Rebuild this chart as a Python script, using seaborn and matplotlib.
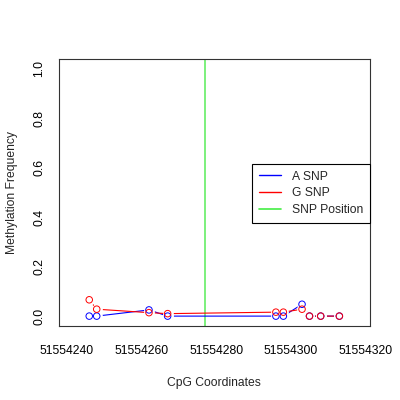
import numpy as np
import pandas as pd
import matplotlib
matplotlib.use("Agg")
import matplotlib.pyplot as plt
from matplotlib.lines import Line2D
import seaborn as sns

# CpG positions and methylation values
cpg_pos = [51554246, 51554248, 51554262, 51554267, 51554296,
           51554298, 51554303, 51554305, 51554308, 51554313]
a_snp = [0.0, 0.0, 0.025, 0.0, 0.0, 0.0, 0.048, 0.0, 0.0, 0.0]
g_snp = [0.066, 0.028, 0.014, 0.010, 0.016, 0.016, 0.028, 0.0, 0.0, 0.0]
snp_position = 51554277
x_ticks = [51554240, 51554260, 51554280, 51554300, 51554320]
y_ticks = [0.0, 0.2, 0.4, 0.6, 0.8, 1.0]

sns.set_style("white")
plt.rcParams['font.family'] = ['Liberation Sans', 'DejaVu Sans']
plt.rcParams['font.size'] = 8.7

df = pd.DataFrame({'pos': cpg_pos, 'A SNP': a_snp, 'G SNP': g_snp})

fig = plt.figure(figsize=(4, 4), dpi=100)
ax = fig.add_axes([0.1475, 0.185, 0.7765, 0.6675])

ax.axvline(snp_position, color='#66ee66', lw=1.2, zorder=1)

# lines first, white discs to break them around the points (R type="b")
sns.lineplot(data=df, x='pos', y='A SNP', color='blue', lw=0.8, ax=ax,
             estimator=None, sort=False, zorder=2)
sns.lineplot(data=df, x='pos', y='G SNP', color='red', lw=0.8, ax=ax,
             estimator=None, sort=False, zorder=2)
for col in ['A SNP', 'G SNP']:
    sns.scatterplot(data=df, x='pos', y=col, color='white', s=60,
                    linewidth=0, ax=ax, zorder=3)
sns.scatterplot(data=df, x='pos', y='A SNP', facecolor='none',
                edgecolor='blue', s=22, linewidth=0.7, ax=ax, zorder=4)
sns.scatterplot(data=df, x='pos', y='G SNP', facecolor='none',
                edgecolor='red', s=22, linewidth=0.7, ax=ax, zorder=5)

ax.set_xlim(51554237.9, 51554321.1)
ax.set_ylim(-0.04, 1.04)
ax.set_xticks(x_ticks)
ax.set_xticklabels([str(t) for t in x_ticks])
ax.set_yticks(y_ticks)
ax.set_yticklabels([f"{t:.1f}" for t in y_ticks], rotation=90, va='center')
ax.tick_params(axis='both', direction='out', length=5, width=0.8,
               colors='black', labelsize=8.7)
ax.tick_params(axis='x', pad=9)
ax.tick_params(axis='y', pad=5)
for sp in ax.spines.values():
    sp.set_color('#333333')
    sp.set_linewidth(0.8)

ax.set_xlabel('CpG Coordinates', fontsize=8.7, labelpad=14)
ax.set_ylabel('Methylation Frequency', fontsize=8.7, labelpad=11)

handles = [Line2D([], [], color='blue', lw=1.0),
           Line2D([], [], color='red', lw=1.0),
           Line2D([], [], color='#44ee44', lw=1.2)]
leg = ax.legend(handles, ['A SNP', 'G SNP', 'SNP Position'],
                loc='upper right', bbox_to_anchor=(1.0, 0.607),
                frameon=True, fancybox=False, framealpha=1,
                edgecolor='black', handlelength=1.85, handletextpad=0.85,
                labelspacing=0.4, borderpad=0.55, fontsize=8.7,
                borderaxespad=0)
leg.get_frame().set_linewidth(0.8)

fig.savefig('out.png', dpi=100)
